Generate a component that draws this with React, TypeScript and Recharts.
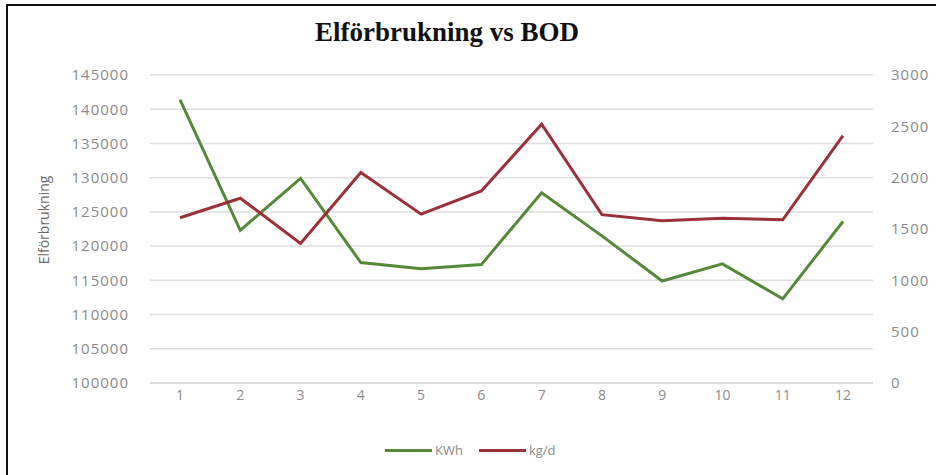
import React from 'react'
import { LineChart, Line, XAxis, YAxis, CartesianGrid } from 'recharts'

const months = ['1', '2', '3', '4', '5', '6', '7', '8', '9', '10', '11', '12']
const kwh = [141400, 122300, 129900, 117600, 116700, 117300, 127800, 121500, 114900, 117400, 112300, 123600]
const kgPerDay = [1610, 1800, 1360, 2050, 1645, 1870, 2520, 1640, 1580, 1605, 1590, 2410]
const leftTicks = [100000, 105000, 110000, 115000, 120000, 125000, 130000, 135000, 140000, 145000]
const rightTicks = [0, 500, 1000, 1500, 2000, 2500, 3000]

const GREEN = '#55893a'
const RED = '#9b3138'
const TICK = { fill: '#8a8a8a', fontSize: 15, fontFamily: 'Open Sans', letterSpacing: 1 }

export default function App() {
    const data = months.map((m, i) => ({ month: m, kwh: kwh[i], kg: kgPerDay[i] }))

    return (
        <div style={{ position: 'absolute', left: 0, top: 0, width: 936, height: 475, background: '#fff', overflow: 'hidden' }}>
            <style>{'html, body { margin: 0; overflow: hidden; }'}</style>
            {/* frame: only top and left edges are visible in the cropped original */}
            <div style={{ position: 'absolute', left: 6, top: 4, width: 930, height: 2, background: '#111' }} />
            <div style={{ position: 'absolute', left: 6, top: 4, width: 2, height: 471, background: '#111' }} />
            <div style={{
                position: 'absolute', left: 0, width: 894, top: 19, textAlign: 'center',
                fontFamily: 'Liberation Serif', fontWeight: 'bold', fontSize: 27, lineHeight: '27px', color: '#111'
            }}>
                Elförbrukning vs BOD
            </div>

            <div style={{ position: 'absolute', left: 0, top: 0 }}>
                <LineChart width={936} height={475} data={data} margin={{ top: 75, right: 3, bottom: 62, left: 30 }}>
                    <CartesianGrid vertical={false} stroke="#dedede" strokeWidth={1.5} yAxisId="left" />
                    <XAxis dataKey="month" axisLine={{ stroke: '#d9d9d9', strokeWidth: 1.5 }} tickLine={false} tickMargin={1} height={30}
                        padding={{ left: 30, right: 30 }} tick={{ ...TICK, fontSize: 14, letterSpacing: 0 }} />
                    <YAxis yAxisId="left" domain={[100000, 145000]} ticks={leftTicks} width={120} axisLine={false} tickLine={false}
                        tickMargin={15} tick={TICK} interval={0}
                        label={{ value: 'Elförbrukning', angle: -90, position: 'insideLeft', offset: 14, dy: -9,
                            style: { fill: '#6a6a6a', fontSize: 14, fontFamily: 'Open Sans', textAnchor: 'middle' } }} />
                    <YAxis yAxisId="right" orientation="right" domain={[0, 3000]} ticks={rightTicks} width={60} axisLine={false}
                        tickLine={false} tickMargin={12} tick={TICK} interval={0} />
                    <Line yAxisId="left" type="linear" dataKey="kwh" stroke={GREEN} strokeWidth={3} dot={false} isAnimationActive={false} />
                    <Line yAxisId="right" type="linear" dataKey="kg" stroke={RED} strokeWidth={3} dot={false} isAnimationActive={false} />
                </LineChart>
            </div>

            <div style={{ position: 'absolute', left: 385, top: 441, display: 'flex', alignItems: 'center', gap: 16,
                fontFamily: 'Open Sans', fontSize: 13, color: '#8a8a8a' }}>
                {[{ name: 'KWh', color: GREEN }, { name: 'kg/d', color: RED }].map(item => (
                    <div key={item.name} style={{ display: 'flex', alignItems: 'center' }}>
                        <div style={{ width: 47, height: 3, background: item.color, marginRight: 3 }} />
                        <span>{item.name}</span>
                    </div>
                ))}
            </div>
        </div>
    )
}
